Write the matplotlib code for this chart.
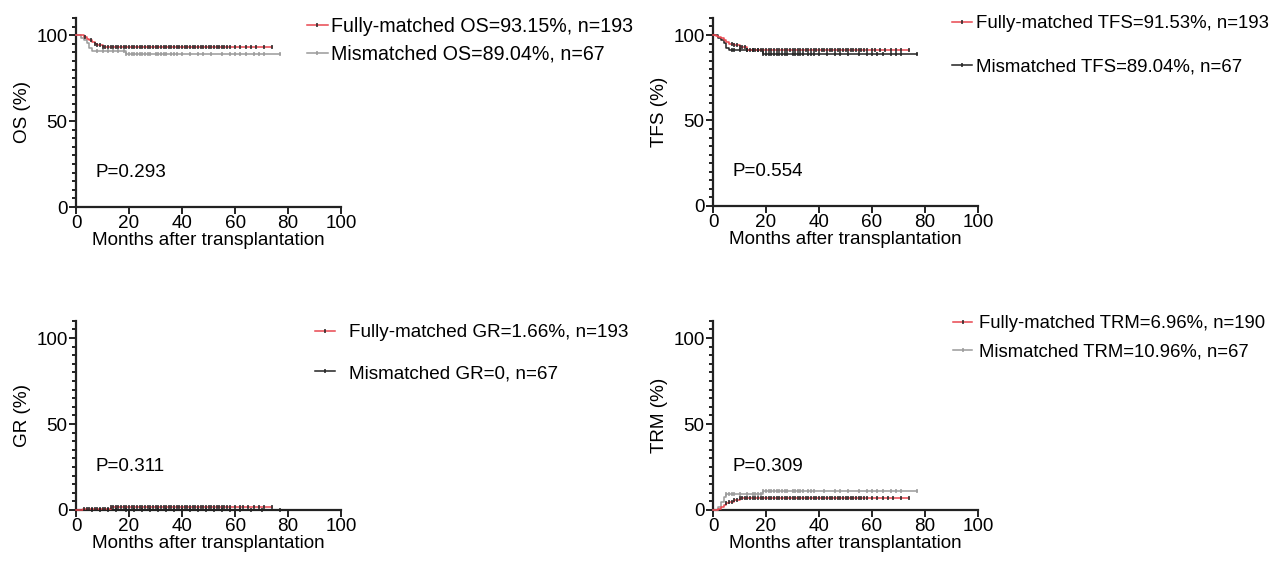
import matplotlib
matplotlib.use('Agg')
import matplotlib.pyplot as plt
from matplotlib.lines import Line2D
from matplotlib.ticker import MultipleLocator
import numpy as np

plt.rcParams['font.family'] = ['Liberation Sans', 'DejaVu Sans']
plt.rcParams['font.size'] = 13.6

RED = '#e8474f'
GRAY = '#9a9a9a'
BLACK = '#222222'

##########Data
# OS
os_fm_t = [0, 3, 4, 5, 6, 7, 8, 10, 74]
os_fm_s = [100, 99, 98, 97, 96, 95, 94, 93.15, 93.15]
os_fm_cens = [3.5, 5.5, 7, 8, 9, 10, 11, 12, 13, 14, 15, 16, 17, 18, 19, 20, 21, 22, 23, 24, 25,
              26, 27, 28, 29, 30, 31, 32, 33, 34, 35, 36, 37, 38, 39, 40, 41, 42, 43, 44, 45, 46,
              47, 48, 49, 50, 51, 52, 53, 54, 55, 56, 57, 58, 60, 62, 64, 66, 68, 71, 74]
os_mm_t = [0, 2, 3, 4, 5, 6, 19, 77]
os_mm_s = [100, 98.5, 97, 95.5, 92.5, 91, 89.04, 89.04]
os_mm_cens = [8, 10, 12, 14, 16, 18, 19, 20, 21, 22, 23, 24, 25, 26, 27, 28, 30, 31, 32, 33, 34,
              36, 37, 38, 40, 43, 46, 48, 51, 55, 58, 60, 62, 64, 67, 69, 71, 77]
# TFS
tfs_fm_t = [0, 1, 2, 3, 4, 5, 6, 8, 10, 13, 74]
tfs_fm_s = [100, 99.5, 99, 98, 97, 96, 95, 94, 93, 91.53, 91.53]
tfs_fm_cens = [7, 8, 9, 10, 11, 12, 13, 14, 15, 16, 17, 18, 19, 20, 21, 22, 23, 24, 25, 26, 27,
               28, 29, 30, 31, 32, 33, 34, 35, 36, 37, 38, 39, 40, 41, 42, 43, 44, 45, 46, 47,
               48, 49, 50, 51, 52, 53, 54, 55, 56, 57, 58, 60, 61, 63, 65, 67, 69, 71, 74]
tfs_mm_t = [0, 2, 3, 4, 5, 6, 19, 77]
tfs_mm_s = [100, 98.5, 97, 95.5, 92.5, 91, 89.04, 89.04]
tfs_mm_cens = [7, 8, 10, 13, 15, 17, 19, 20, 21, 22, 23, 24, 25, 26, 27, 28, 30, 31, 32, 33, 34,
               36, 37, 38, 40, 43, 46, 48, 51, 55, 58, 60, 62, 64, 67, 69, 71, 77]
# GR
gr_fm_t = [0, 2.5, 13, 74]
gr_fm_s = [0, 0.55, 1.66, 1.66]
gr_fm_cens = [3, 4, 5, 6, 7, 8, 9, 10, 11, 12, 13, 14, 15, 16, 17, 18, 19, 20, 21, 22, 23, 24,
              25, 26, 27, 28, 29, 30, 31, 32, 33, 34, 35, 36, 37, 38, 39, 40, 41, 42, 43, 44, 45,
              46, 47, 48, 49, 50, 51, 52, 53, 54, 55, 56, 57, 58, 60, 62, 63, 65, 67, 69, 71, 74]
gr_mm_t = [0, 77]
gr_mm_s = [0, 0]
gr_mm_cens = [6, 9, 12, 15, 19, 22, 25, 28, 31, 34, 37, 40, 43, 46, 49, 52, 55, 58, 62, 66, 70, 77]
# TRM
trm_fm_t = [0, 2, 3, 4, 5, 6, 8, 10, 74]
trm_fm_s = [0, 0.5, 1.6, 2.7, 3.8, 4.9, 5.9, 6.96, 6.96]
trm_fm_cens = [5, 6, 7, 8, 9, 10, 11, 12, 13, 14, 15, 16, 17, 18, 19, 20, 21, 22, 23, 24, 25, 26,
               27, 28, 29, 30, 31, 32, 33, 34, 35, 36, 37, 38, 39, 40, 41, 42, 43, 44, 45, 46, 47,
               48, 49, 50, 51, 52, 53, 54, 55, 56, 57, 58, 60, 62, 64, 66, 68, 71, 74]
trm_mm_t = [0, 2, 3, 4, 5, 19, 77]
trm_mm_s = [0, 1.5, 4.5, 7.5, 9, 10.96, 10.96]
trm_mm_cens = [5, 6, 7, 8, 10, 13, 15, 16, 17, 18, 19, 20, 21, 22, 23, 24, 25, 26, 27, 28, 30, 31,
               32, 33, 34, 36, 37, 38, 42, 46, 48, 51, 55, 58, 60, 62, 64, 67, 69, 71, 77]

panels = [
    dict(ylabel='OS (%)', p='P=0.293', py=20,
         fm=(os_fm_t, os_fm_s, os_fm_cens), mm=(os_mm_t, os_mm_s, os_mm_cens),
         mm_line=GRAY, mm_tick=GRAY,
         labels=['Fully-matched OS=93.15%, n=193', 'Mismatched OS=89.04%, n=67'],
         rect=[0.0596, 0.631, 0.2077, 0.337], leg=(307, 17), sp=0.45, pad=0.2, fs=14.1),
    dict(ylabel='TFS (%)', p='P=0.554', py=20,
         fm=(tfs_fm_t, tfs_fm_s, tfs_fm_cens), mm=(tfs_mm_t, tfs_mm_s, tfs_mm_cens),
         mm_line=BLACK, mm_tick=BLACK,
         labels=['Fully-matched TFS=91.53%, n=193', 'Mismatched TFS=89.04%, n=67'],
         rect=[0.5588, 0.633, 0.2077, 0.335], leg=(952, 15), sp=1.4, pad=0.25, fs=13.4),
    dict(ylabel='GR (%)', p='P=0.311', py=25,
         fm=(gr_fm_t, gr_fm_s, gr_fm_cens), mm=(gr_mm_t, gr_mm_s, gr_mm_cens),
         mm_line=BLACK, mm_tick=BLACK,
         labels=['Fully-matched GR=1.66%, n=193', 'Mismatched GR=0, n=67'],
         rect=[0.0596, 0.091, 0.2077, 0.337], leg=(315, 324), sp=1.25, pad=0.75, fs=13.6),
    dict(ylabel='TRM (%)', p='P=0.309', py=25,
         fm=(trm_fm_t, trm_fm_s, trm_fm_cens), mm=(trm_mm_t, trm_mm_s, trm_mm_cens),
         mm_line=GRAY, mm_tick=GRAY,
         labels=['Fully-matched TRM=6.96%, n=190', 'Mismatched TRM=10.96%, n=67'],
         rect=[0.5588, 0.091, 0.2077, 0.337], leg=(953, 315), sp=0.6, pad=0.35, fs=13.3),
]

W, H = 1276, 561
fig = plt.figure(figsize=(W / 100, H / 100), dpi=100)


def step_at(t, s, x):
    idx = np.searchsorted(t, x, side='right') - 1
    return np.asarray(s)[idx]


for pnl in panels:
    ax = fig.add_axes(pnl['rect'])
    for (t, s, c), lc, tc in [(pnl['mm'], pnl['mm_line'], pnl['mm_tick']),
                              (pnl['fm'], RED, BLACK)]:
        ax.plot(t, s, drawstyle='steps-post', color=lc, lw=1.1, clip_on=False, zorder=3)
        ax.plot(c, step_at(t, s, c), ls='none', marker='|', ms=3, mew=1.1,
                color=tc, clip_on=False, zorder=4)
    ax.set_xlim(0, 100)
    ax.set_ylim(0, 110)
    ax.set_xticks([0, 20, 40, 60, 80, 100])
    ax.set_yticks([0, 50, 100])
    ax.yaxis.set_minor_locator(MultipleLocator(5))
    for sp in ['top', 'right']:
        ax.spines[sp].set_visible(False)
    for sp in ['left', 'bottom']:
        ax.spines[sp].set_linewidth(1.6)
        ax.spines[sp].set_color(BLACK)
    ax.tick_params(which='major', length=5, width=1.4, color=BLACK, pad=1)
    ax.tick_params(which='minor', length=3, width=1.4, color=BLACK)
    ax.set_xlabel('Months after transplantation', labelpad=0)
    ax.set_ylabel(pnl['ylabel'], labelpad=4)
    ax.text(7.5, pnl['py'], pnl['p'], va='center', ha='left')

    handles = [Line2D([], [], color=RED, lw=1.1, marker='|', ms=3, mew=1.1, mec=BLACK),
               Line2D([], [], color=pnl['mm_line'], lw=1.1, marker='|', ms=3, mew=1.1,
                      mec=pnl['mm_tick'])]
    lx, ly = pnl['leg']
    fig.legend(handles, pnl['labels'], loc='upper left',
               bbox_to_anchor=(lx / W, 1 - ly / H), frameon=False,
               borderpad=0, borderaxespad=0, handlelength=1.05,
               handletextpad=pnl['pad'], labelspacing=pnl['sp'],
               prop={'size': pnl['fs']})

fig.savefig('out.png', dpi=100)
